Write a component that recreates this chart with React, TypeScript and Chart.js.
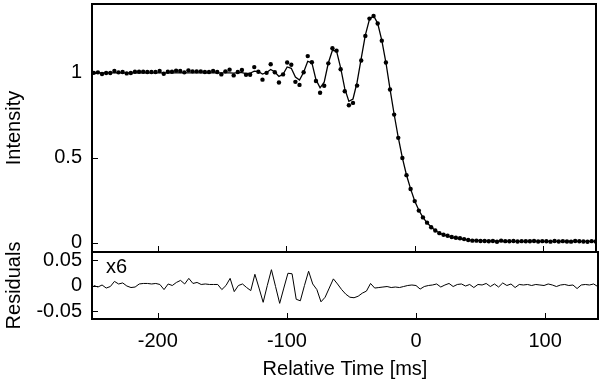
import React, { useEffect, useRef } from "react";
import { Chart, registerables } from "chart.js";

Chart.register(...registerables);

const FONT = "'Liberation Sans', Arial, Helvetica, sans-serif";

// Sample times [ms]
const times = [
  -249.6, -246.4, -243.2, -240.0, -236.8, -233.6, -230.4, -227.2, -224.0, -220.8,
  -217.6, -214.4, -211.2, -208.0, -204.8, -201.6, -198.4, -195.2, -192.0, -188.8,
  -185.6, -182.4, -179.2, -176.0, -172.8, -169.6, -166.4, -163.2, -160.0, -156.8,
  -153.6, -150.4, -147.2, -144.0, -140.8, -137.6, -134.4, -131.2, -128.0, -124.8,
  -121.6, -118.4, -115.2, -112.0, -108.8, -105.6, -102.4, -99.2, -96.0, -92.8,
  -89.6, -86.4, -83.2, -80.0, -76.8, -73.6, -70.4, -67.2, -64.0, -60.8,
  -57.6, -54.4, -51.2, -48.0, -44.8, -41.6, -38.4, -35.2, -32.0, -28.8,
  -25.6, -22.4, -19.2, -16.0, -12.8, -9.6, -6.4, -3.2, 0.0, 3.2,
  6.4, 9.6, 12.8, 16.0, 19.2, 22.4, 25.6, 28.8, 32.0, 35.2,
  38.4, 41.6, 44.8, 48.0, 51.2, 54.4, 57.6, 60.8, 64.0, 67.2,
  70.4, 73.6, 76.8, 80.0, 83.2, 86.4, 89.6, 92.8, 96.0, 99.2,
  102.4, 105.6, 108.8, 112.0, 115.2, 118.4, 121.6, 124.8, 128.0, 131.2,
  134.4, 137.6, 140.8,
];

// Measured intensity (dots)
const intensity = [
  1.000, 1.003, 0.993, 0.999, 0.999, 1.011, 1.003, 1.005, 0.997, 0.999,
  1.007, 1.007, 1.007, 1.005, 1.005, 1.005, 1.011, 0.995, 1.007, 1.007,
  1.013, 1.011, 1.003, 1.015, 1.009, 1.009, 1.009, 1.005, 1.005, 1.011,
  1.005, 0.991, 1.009, 1.019, 0.985, 1.005, 1.017, 0.989, 0.989, 1.034,
  1.007, 0.960, 1.000, 1.051, 1.004, 0.943, 0.991, 1.061, 1.048, 0.947,
  0.929, 1.004, 1.099, 1.063, 0.952, 0.883, 0.924, 1.056, 1.145, 1.131,
  1.021, 0.892, 0.809, 0.823, 0.925, 1.073, 1.218, 1.320, 1.335, 1.291,
  1.190, 1.061, 0.902, 0.754, 0.617, 0.498, 0.397, 0.315, 0.244, 0.188,
  0.148, 0.117, 0.090, 0.071, 0.055, 0.046, 0.040, 0.032, 0.028, 0.025,
  0.020, 0.015, 0.011, 0.011, 0.009, 0.009, 0.007, 0.009, 0.004, 0.011,
  0.008, 0.007, 0.009, 0.006, 0.008, 0.007, 0.007, 0.009, 0.006, 0.008,
  0.007, 0.005, 0.009, 0.006, 0.008, 0.006, 0.005, 0.009, 0.007, 0.006,
  0.004, 0.008, 0.006,
];

// Fitted model (line)
const model = [
  1.000, 1.000, 1.000, 1.000, 1.000, 1.000, 1.000, 1.000, 1.000, 1.000,
  1.000, 1.000, 1.000, 1.000, 1.000, 1.000, 1.000, 1.000, 1.000, 1.000,
  1.000, 1.000, 1.000, 1.000, 1.000, 1.000, 1.000, 1.000, 1.000, 1.000,
  1.000, 1.000, 1.000, 1.000, 0.999, 1.001, 1.002, 0.996, 0.998, 1.010,
  1.008, 0.993, 1.002, 1.020, 1.005, 0.979, 0.992, 1.035, 1.027, 0.975,
  0.958, 1.004, 1.068, 1.060, 0.960, 0.912, 0.945, 1.058, 1.133, 1.128,
  1.030, 0.907, 0.832, 0.846, 0.945, 1.085, 1.222, 1.316, 1.337, 1.292,
  1.191, 1.061, 0.904, 0.756, 0.619, 0.499, 0.398, 0.316, 0.245, 0.190,
  0.148, 0.116, 0.091, 0.071, 0.056, 0.045, 0.037, 0.030, 0.025, 0.021,
  0.018, 0.015, 0.013, 0.012, 0.011, 0.010, 0.009, 0.009, 0.008, 0.008,
  0.008, 0.007, 0.007, 0.007, 0.007, 0.007, 0.007, 0.007, 0.007, 0.007,
  0.007, 0.007, 0.007, 0.007, 0.007, 0.007, 0.007, 0.007, 0.007, 0.007,
  0.007, 0.007, 0.007,
];

// Residuals (lower panel)
const residuals = [
  0.000, -0.003, 0.001, -0.005, -0.002, 0.008, 0.003, 0.005, -0.001, -0.004,
  -0.003, 0.003, 0.004, 0.004, 0.003, 0.004, 0.002, -0.008, 0.003, 0.000,
  0.006, 0.010, 0.003, 0.014, 0.004, 0.006, 0.002, 0.003, 0.002, 0.002,
  0.002, -0.008, 0.000, 0.014, -0.012, 0.000, 0.003, -0.004, -0.010, 0.022,
  -0.005, -0.033, 0.000, 0.031, -0.002, -0.035, -0.005, 0.024, 0.023, -0.027,
  -0.030, 0.000, 0.028, 0.003, -0.008, -0.032, -0.023, -0.005, 0.013, 0.003,
  -0.008, -0.017, -0.023, -0.024, -0.021, -0.015, -0.011, 0.004, -0.005, -0.004,
  -0.003, -0.002, -0.004, -0.003, -0.004, -0.002, 0.000, 0.001, 0.000, -0.007,
  -0.002, 0.000, 0.001, 0.003, -0.003, 0.001, 0.004, -0.002, 0.002, 0.003,
  -0.001, 0.002, -0.004, 0.002, 0.001, 0.004, -0.002, 0.003, -0.003, 0.005,
  0.000, 0.003, -0.004, 0.002, 0.001, 0.002, 0.000, 0.002, 0.001, 0.000,
  0.003, 0.001, -0.002, 0.001, 0.002, 0.000, 0.001, -0.006, 0.001, 0.002,
  0.001, 0.003, -0.002,
];

const timeTicks = [-200, -100, 0, 100];
const intensityTicks = [0, 0.5, 1];
const residualTicks = [-0.05, 0, 0.05];

const X_MIN = -251;
const X_MAX = 141;

function makeFramePlugin(yTicks: number[], note?: string) {
  return {
    id: "frame",
    afterDraw(chart: any) {
      const { ctx, chartArea: a } = chart;
      const xs = chart.scales.x;
      const ys = chart.scales.y;
      ctx.save();
      ctx.strokeStyle = "#000";
      ctx.lineWidth = 1;
      ctx.beginPath();
      for (const v of timeTicks) {
        const px = Math.round(xs.getPixelForValue(v)) + 0.5;
        ctx.moveTo(px, a.bottom);
        ctx.lineTo(px, a.bottom - 6);
      }
      for (const v of yTicks) {
        const py = Math.round(ys.getPixelForValue(v)) + 0.5;
        ctx.moveTo(a.left, py);
        ctx.lineTo(a.left + 6, py);
      }
      ctx.stroke();
      ctx.lineWidth = 2;
      ctx.strokeRect(a.left, a.top, a.right - a.left, a.bottom - a.top);
      if (note) {
        ctx.font = `20px ${FONT}`;
        ctx.fillStyle = "#000";
        ctx.textBaseline = "middle";
        ctx.textAlign = "left";
        ctx.fillText(note, a.left + 14, a.top + 15);
      }
      ctx.restore();
    },
  };
}

function yAxis(min: number, max: number, ticks: number[], title: string) {
  return {
    type: "linear" as const,
    min,
    max,
    afterBuildTicks: (s: any) => {
      s.ticks = ticks.map((v) => ({ value: v }));
    },
    afterFit: (s: any) => {
      s.width = 92;
      s.paddingTop = 0;
      s.paddingBottom = 0;
    },
    grid: { display: false, drawTicks: false },
    border: { display: false },
    ticks: {
      padding: 10,
      color: "#000",
      font: { family: FONT, size: 20 },
      callback: (v: any) => String(v),
    },
    title: {
      display: true,
      text: title,
      color: "#000",
      font: { family: FONT, size: 20 },
      padding: { top: 2, bottom: 2 },
    },
  };
}

export default function App() {
  const topRef = useRef<HTMLCanvasElement>(null);
  const botRef = useRef<HTMLCanvasElement>(null);

  useEffect(() => {
    const top = new Chart(topRef.current!, {
      type: "scatter",
      data: {
        datasets: [
          {
            data: times.map((t, i) => ({ x: t, y: intensity[i] })),
            showLine: false,
            pointRadius: 2.2,
            pointBackgroundColor: "#000",
            pointBorderWidth: 0,
            backgroundColor: "#000",
          },
          {
            data: times.map((t, i) => ({ x: t, y: model[i] })),
            showLine: true,
            borderColor: "#000",
            borderWidth: 1.3,
            pointRadius: 0,
            tension: 0,
          },
        ],
      },
      options: {
        animation: false,
        responsive: false,
        devicePixelRatio: 1,
        layout: { padding: { top: 2, right: 2, bottom: 8, left: 0 } },
        plugins: { legend: { display: false }, tooltip: { enabled: false } },
        scales: {
          x: { type: "linear", min: X_MIN, max: X_MAX, display: false },
          y: yAxis(-0.056, 1.406, intensityTicks, "Intensity"),
        },
      },
      plugins: [makeFramePlugin(intensityTicks)],
    } as any);

    const bot = new Chart(botRef.current!, {
      type: "scatter",
      data: {
        datasets: [
          {
            data: times.map((t, i) => ({ x: t, y: residuals[i] })),
            showLine: true,
            borderColor: "#000",
            borderWidth: 1,
            pointRadius: 0,
            tension: 0,
          },
        ],
      },
      options: {
        animation: false,
        responsive: false,
        devicePixelRatio: 1,
        layout: { padding: { top: 22, right: 2, bottom: 0, left: 0 } },
        plugins: { legend: { display: false }, tooltip: { enabled: false } },
        scales: {
          x: {
            type: "linear",
            min: X_MIN,
            max: X_MAX,
            afterBuildTicks: (s: any) => {
              s.ticks = timeTicks.map((v) => ({ value: v }));
            },
            afterFit: (s: any) => {
              s.height = 65;
              s.paddingLeft = 0;
              s.paddingRight = 0;
            },
            grid: { display: false, drawTicks: false },
            border: { display: false },
            ticks: {
              padding: 10,
              color: "#000",
              maxRotation: 0,
              font: { family: FONT, size: 20 },
              callback: (v: any) => String(v),
            },
            title: {
              display: true,
              text: "Relative Time [ms]",
              color: "#000",
              font: { family: FONT, size: 20 },
              padding: { top: 2, bottom: 3 },
            },
          },
          y: yAxis(-0.0657, 0.0657, residualTicks, "Residuals"),
        },
      },
      plugins: [makeFramePlugin(residualTicks, "x6")],
    } as any);

    return () => {
      top.destroy();
      bot.destroy();
    };
  }, []);

  return (
    <div
      style={{
        position: "fixed",
        left: 0,
        top: 0,
        width: 600,
        height: 384,
        background: "#fff",
      }}
    >
      <canvas
        ref={topRef}
        width={600}
        height={260}
        style={{ position: "absolute", left: 0, top: 0, width: 600, height: 260 }}
      />
      <canvas
        ref={botRef}
        width={600}
        height={154}
        style={{ position: "absolute", left: 0, top: 230, width: 600, height: 154 }}
      />
    </div>
  );
}
